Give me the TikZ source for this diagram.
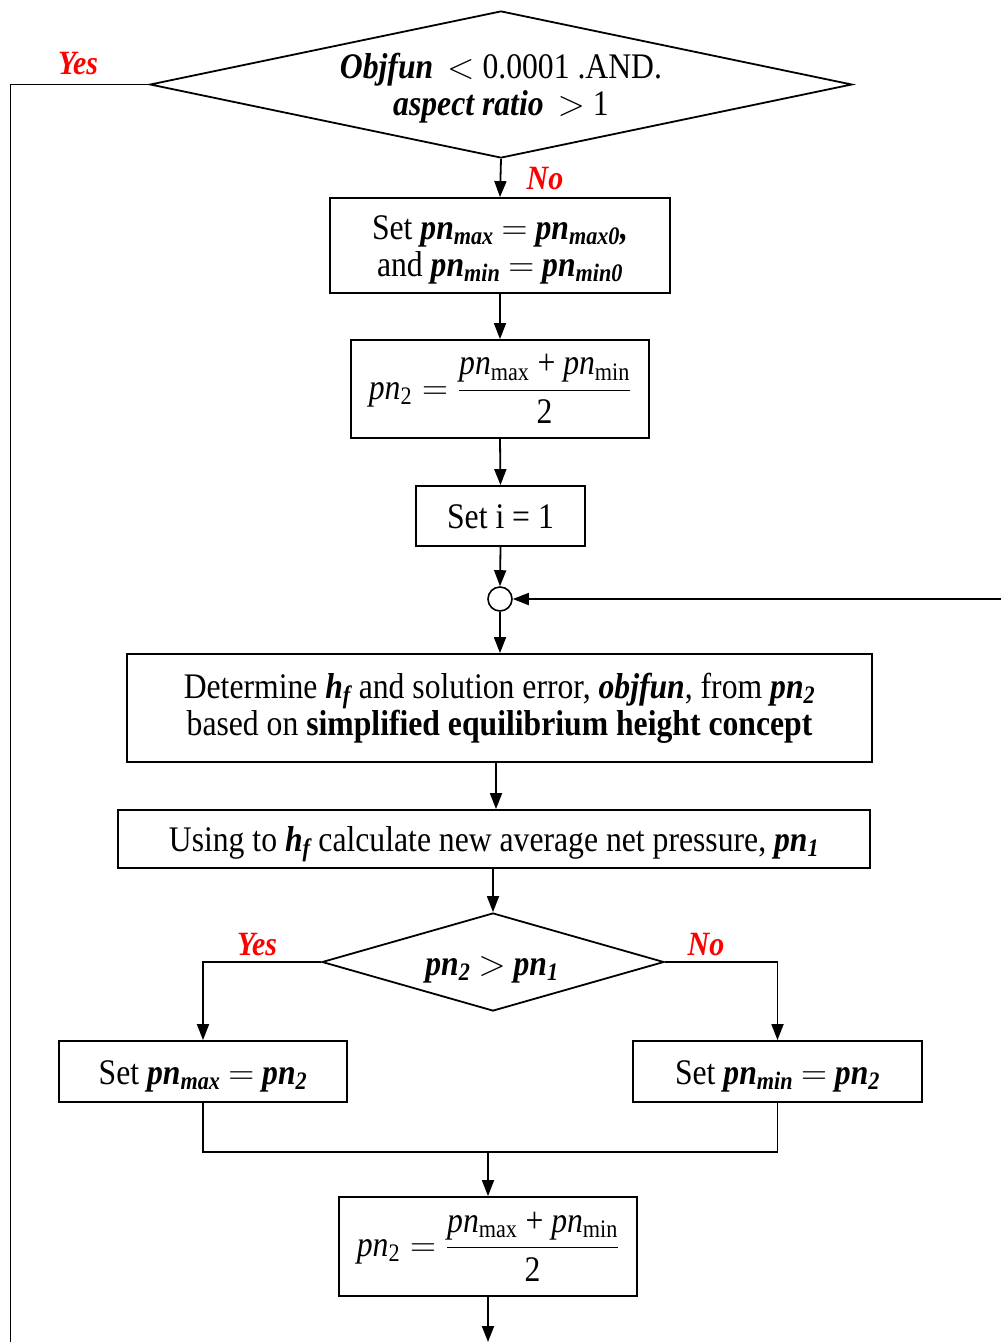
\RequirePackage{fix-cm}
\documentclass[tikz,border=0pt]{standalone}
\usepackage{amsmath}
\usepackage{fontspec}
\setmainfont{Liberation Serif}[FakeStretch=0.88]
\usetikzlibrary{shapes.geometric,arrows.meta}
\newcommand{\bi}[1]{\textbf{\textit{#1}}}
\newcommand{\pnfrac}{$\mbox{\textit{pn}\textsubscript{2}}=\dfrac{\mbox{\textit{pn}\textsubscript{max} + \textit{pn}\textsubscript{min}}}{\mbox{2}}$}
\begin{document}
\begin{tikzpicture}[x=1pt,y=-1pt,
  every node/.style={font=\fontsize{36}{37}\selectfont},
  box/.style={draw,line width=1.8pt,rectangle,inner sep=0pt,align=center},
  oneline/.style={text height=25pt,text depth=0pt},
  dia/.style={draw,line width=1.8pt,diamond,inner sep=0pt},
  lab/.style={text=red,font=\fontsize{34}{36}\selectfont\bfseries\itshape},
  line/.style={line width=1.8pt},
  arr/.style={line width=1.8pt,-{Triangle[length=16pt,width=12pt]}}]
\useasboundingbox (0,0) rectangle (1001,1342);

% decisions
\node[dia,minimum width=702,minimum height=147] (d1) at (501,84.5) {};
\node[align=center] (d1t) at (501,88) {\bi{Objfun}\, $<$ 0.0001 .AND.\\ \bi{aspect ratio}\, $>$ 1};
\node[dia,minimum width=342,minimum height=98] (d2) at (493,962) {};
\node[oneline] (d2t) at (492,963) {\bi{pn\textsubscript{2}} $>$ \bi{pn\textsubscript{1}}};

% process boxes
\node[box,minimum width=340,minimum height=95] (b1) at (500,245.5) {};
\node[align=center] (b1t) at (500,250) {Set \bi{pn\textsubscript{max}} $=$ \bi{pn\textsubscript{max0},}\\ and \bi{pn\textsubscript{min}} $=$ \bi{pn\textsubscript{min0}}};
\node[box,minimum width=298,minimum height=98] (b2) at (500,389) {\pnfrac};
\node[box,oneline,minimum width=169,minimum height=60] (b3) at (500.5,516) {Set i = 1};
\node[draw,line width=1.6pt,circle,minimum size=24,inner sep=0pt] (c) at (500,599) {};
\node[box,minimum width=745,minimum height=108] (b4) at (499.5,708)
  {Determine \bi{h\textsubscript{f}} and solution error, \bi{objfun}, from \bi{pn\textsubscript{2}}\\ based on \textbf{simplified equilibrium height concept}};
\node[box,oneline,minimum width=752,minimum height=58] (b5) at (494,839)
  {Using to \bi{h\textsubscript{f}} calculate new average net pressure, \bi{pn\textsubscript{1}}};
\node[box,oneline,minimum width=288,minimum height=61] (b6) at (203,1071.5)
  {Set \bi{pn\textsubscript{max}} $=$ \bi{pn\textsubscript{2}}};
\node[box,oneline,minimum width=289,minimum height=61] (b7) at (777.5,1071.5)
  {Set \bi{pn\textsubscript{min}} $=$ \bi{pn\textsubscript{2}}};
\node[box,minimum width=298,minimum height=99] (b8) at (488,1246.5) {\pnfrac};

% branch labels
\node[lab] (ly1) at (78,64) {Yes};
\node[lab] (ln1) at (545,179) {No};
\node[lab] (ly2) at (257,945) {Yes};
\node[lab] (ln2) at (706,945) {No};

% free ends and junctions
\coordinate (yesEnd) at (10.5,1342);
\coordinate (loopIn) at (1001,599);
\coordinate (merge) at (488,1152);
\coordinate (outEnd) at (488,1342);

% connectors
\draw[line] (d1.west) -| (yesEnd);
\draw[arr] (d1.south) -- (b1.north);
\draw[arr] (b1.south) -- (b2.north);
\draw[arr] (b2.south) -- (b3.north);
\draw[arr] (b3.south) -- (c.north);
\draw[arr] (loopIn) -- (c.east);
\draw[arr] (c.south) -- (c.south |- b4.north);
\draw[arr] (b4.south -| 496,0) -- (b5.north -| 496,0);
\draw[arr] (b5.south -| d2.north) -- (d2.north);
\draw[arr] (d2.west) -| (b6.north);
\draw[arr] (d2.east) -| (b7.north);
\draw[line] (b6.south) -- (b6.south |- merge) -- (b7.south |- merge) -- (b7.south);
\draw[arr] (merge) -- (b8.north);
\draw[arr] (b8.south) -- (outEnd);
\end{tikzpicture}
\end{document}
